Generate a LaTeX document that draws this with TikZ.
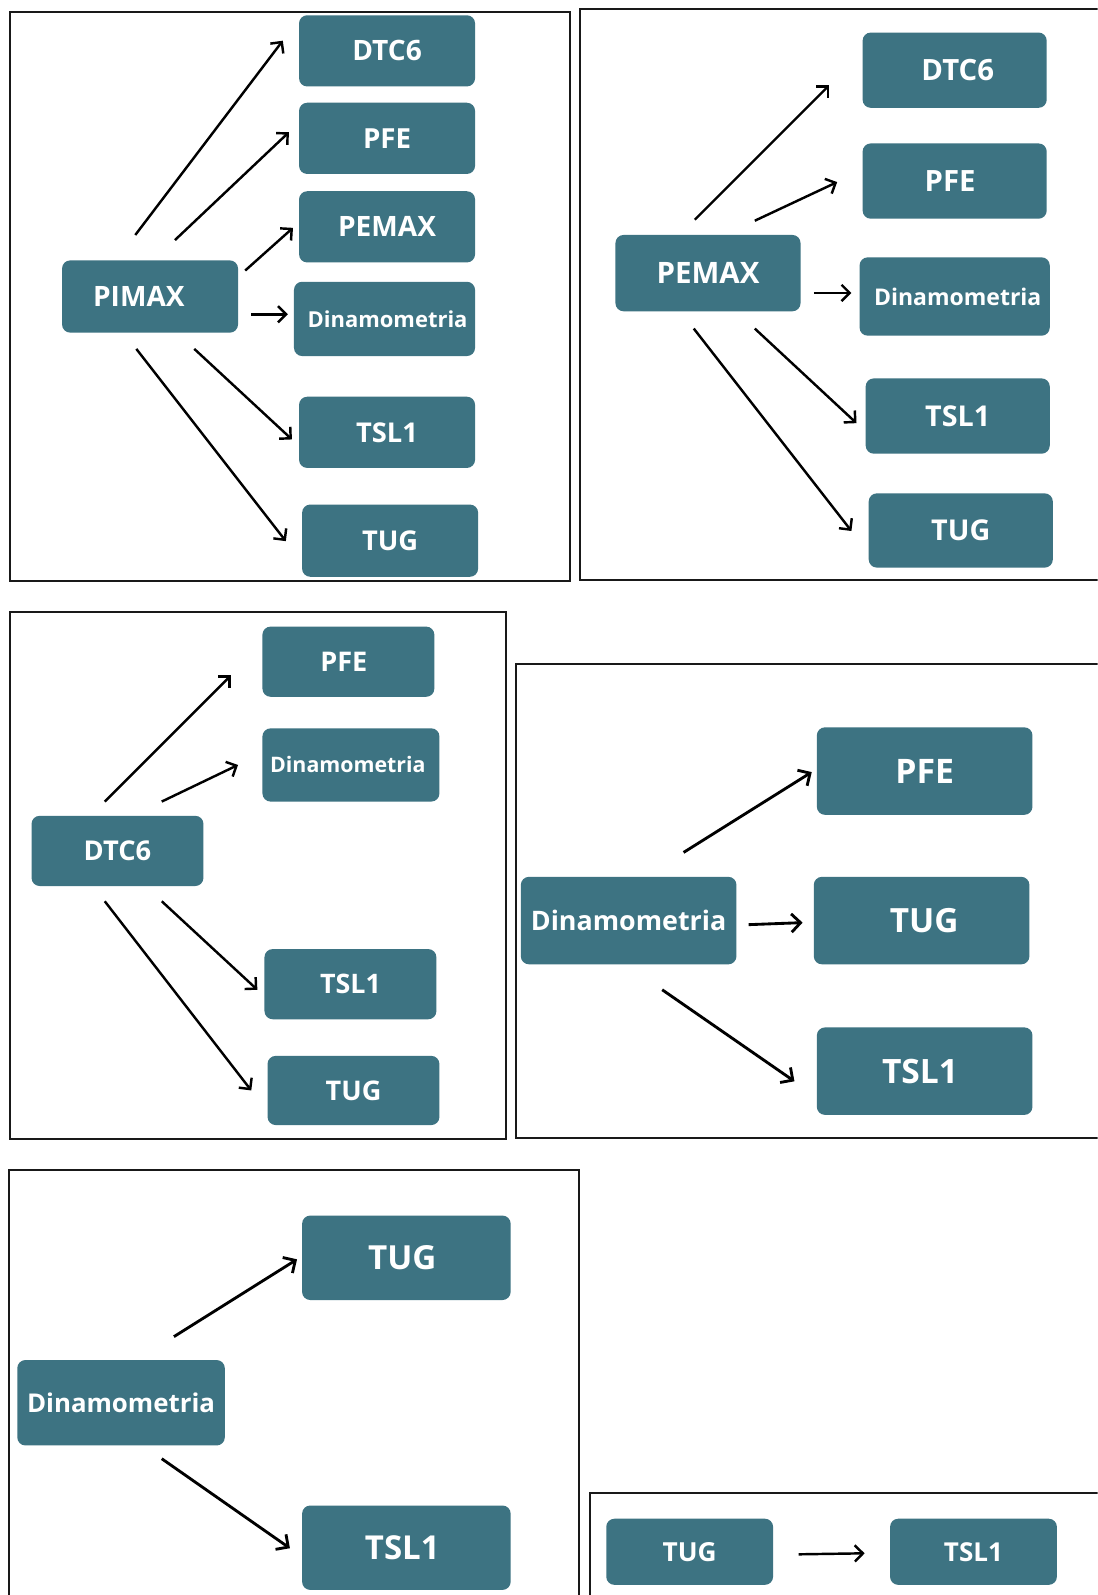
\documentclass[tikz,border=0pt]{standalone}
\usepackage{fontspec}
\setmainfont{Open Sans}
\usetikzlibrary{arrows.meta}
\definecolor{tealbox}{RGB}{61,115,130}
\definecolor{frm}{RGB}{25,25,25}
\tikzset{
  box/.style={fill=tealbox, rounded corners=4pt, inner sep=0pt, text=white},
  frame/.style={draw=frm, line width=1pt},
  arr/.style={draw=black, line width=1.2pt, -{Straight Barb[length=4pt,width=8pt]}},
  arrb/.style={draw=black, line width=1.4pt, -{Straight Barb[length=4.5pt,width=9pt]}},
}
\newcommand\bx[7]{%
  \pgfmathsetmacro\bxw{(#4-#2)*0.5}\pgfmathsetmacro\bxh{(#5-#3)*0.5}%
  \node[box, minimum width=\bxw pt, minimum height=\bxh pt,
        font=\fontsize{#6}{#6}\selectfont\bfseries]
        (#1) at ({(#2+#4)/2},{(#3+#5)/2}) {#7};}
\begin{document}
\begin{tikzpicture}[x=0.5pt,y=-0.5pt]
\path[use as bounding box, fill=white] (0,0) rectangle (1079,1568);
\clip (0,0) rectangle (1079,1568);

% frames
\draw[frame] (10,12) rectangle (560,571);
\draw[frame] (570,9) rectangle (1110,570);
\draw[frame] (10,602) rectangle (497,1120);
\draw[frame] (507,653) rectangle (1110,1119);
\draw[frame] (9,1150) rectangle (569,1600);
\draw[frame] (580,1468) rectangle (1110,1600);

% panel 1
\bx{A0}{61}{256}{234}{327}{13.8}{\hspace*{-11pt}PIMAX}
\bx{A1}{294}{15}{467}{85}{13.8}{DTC6}
\bx{A2}{294}{101}{467}{171}{13.6}{PFE}
\bx{A3}{294}{188}{467}{258}{13.8}{PEMAX}
\bx{A4}{289}{277}{467}{350}{10.8}{\hspace*{3pt}Dinamometria}
\bx{A5}{294}{390}{467}{460}{13.4}{TSL1}
\bx{A6}{297}{496}{470}{567}{13.4}{TUG}
\coordinate (a1s) at (133,231); \coordinate (a1e) at (278,40);
\coordinate (a2s) at (172,236); \coordinate (a2e) at (284,130);
\coordinate (a3s) at (241,266); \coordinate (a3e) at (288,224);
\coordinate (a4s) at (247,309); \coordinate (a4e) at (283,309);
\coordinate (a5s) at (191,343); \coordinate (a5e) at (287,432);
\coordinate (a6s) at (134,343); \coordinate (a6e) at (281,532);
\foreach \i in {1,...,6} \draw[arr] (a\i s) -- (a\i e);

% panel 2
\bx{B0}{605}{231}{787}{306}{14.5}{PEMAX}
\bx{B1}{848}{32}{1029}{106}{14.4}{\hspace*{3pt}DTC6}
\bx{B2}{848}{141}{1029}{215}{14.4}{\hspace*{-4.5pt}PFE}
\bx{B3}{845}{253}{1032}{330}{11.3}{\hspace*{3pt}Dinamometria}
\bx{B4}{851}{372}{1032}{446}{14.1}{TSL1}
\bx{B5}{854}{485}{1035}{558}{14.1}{TUG}
\coordinate (b1s) at (683,216); \coordinate (b1e) at (815,84);
\coordinate (b2s) at (742,217); \coordinate (b2e) at (823,179);
\coordinate (b3s) at (800,288); \coordinate (b3e) at (837,288);
\coordinate (b4s) at (742,323); \coordinate (b4e) at (842,416);
\coordinate (b5s) at (682,323); \coordinate (b5e) at (837,522);
\foreach \i in {1,...,5} \draw[arr] (b\i s) -- (b\i e);

% panel 3
\bx{C0}{31}{802}{200}{871}{13.4}{DTC6}
\bx{C1}{258}{616}{427}{685}{13.3}{\hspace*{-4.5pt}PFE}
\bx{C2}{258}{716}{432}{788}{10.5}{\hspace*{-3pt}Dinamometria}
\bx{C3}{260}{933}{429}{1002}{13.2}{TSL1}
\bx{C4}{263}{1038}{432}{1106}{13.3}{TUG}
\coordinate (c1s) at (103,788); \coordinate (c1e) at (227,664);
\coordinate (c2s) at (159,788); \coordinate (c2e) at (234,752);
\coordinate (c3s) at (159,886); \coordinate (c3e) at (253,973);
\coordinate (c4s) at (103,886); \coordinate (c4e) at (247,1072);
\foreach \i in {1,...,4} \draw[arr] (c\i s) -- (c\i e);

% panel 4
\bx{D0}{512}{862}{724}{948}{13.2}{Dinamometria}
\bx{D1}{803}{715}{1015}{801}{16.6}{PFE}
\bx{D2}{800}{862}{1012}{948}{16.4}{\hspace*{2.5pt}TUG}
\bx{D3}{803}{1010}{1015}{1096}{16.5}{\hspace*{-4.5pt}TSL1}
\coordinate (d1s) at (672,838); \coordinate (d1e) at (798,759);
\coordinate (d2s) at (736,909); \coordinate (d2e) at (789,907);
\coordinate (d3s) at (651,973); \coordinate (d3e) at (781,1063);
\foreach \i in {1,...,3} \draw[arrb] (d\i s) -- (d\i e);

% panel 5
\bx{E0}{17}{1337}{221}{1421}{12.7}{Dinamometria}
\bx{E1}{297}{1195}{502}{1278}{16.3}{\hspace*{-4pt}TUG}
\bx{E2}{297}{1480}{502}{1563}{16.2}{\hspace*{-4pt}TSL1}
\coordinate (e1s) at (171,1314); \coordinate (e1e) at (292,1238);
\coordinate (e2s) at (159,1434); \coordinate (e2e) at (285,1522);
\foreach \i in {1,2} \draw[arrb] (e\i s) -- (e\i e);

% panel 6
\bx{F0}{596}{1493}{760}{1558}{12.9}{TUG}
\bx{F1}{875}{1493}{1039}{1558}{12.8}{TSL1}
\coordinate (f1s) at (785,1528); \coordinate (f1e) at (850,1527);
\draw[arr] (f1s) -- (f1e);
\end{tikzpicture}
\end{document}
